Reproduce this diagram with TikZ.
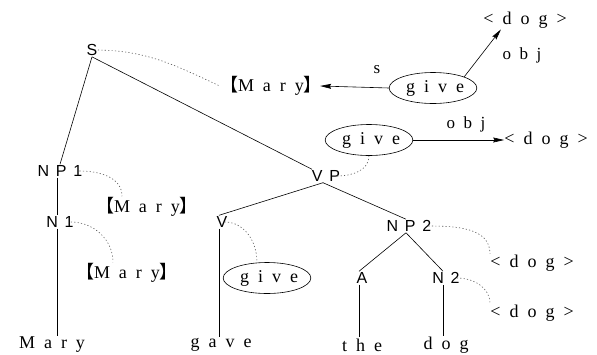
\documentclass[tikz,border=0pt]{standalone}
\usepackage{fontspec}
\setmainfont{Liberation Serif}
\newfontfamily\wordfont[LetterSpace=50]{Liberation Serif}
\newfontfamily\catfont[LetterSpace=42]{Liberation Sans}
\newfontfamily\cjkfont{Noto Sans CJK SC}
\usetikzlibrary{arrows.meta,shapes.geometric}
\newcommand{\lbr}{{\cjkfont 【}}
\newcommand{\rbr}{{\cjkfont 】}}
\begin{document}
\begin{tikzpicture}[x=1pt,y=-1pt,
  cat/.style={font=\fontsize{16}{18}\selectfont\catfont, inner sep=1pt},
  word/.style={font=\fontsize{18}{20}\selectfont\wordfont, inner sep=1pt},
  lab/.style={font=\fontsize{17}{19}\selectfont\wordfont, inner sep=1pt},
  sem/.style={ellipse, draw, line width=0.6pt, inner sep=0pt, minimum width=78pt, minimum height=31pt, font=\fontsize{18}{20}\selectfont\wordfont},
  tree/.style={line width=0.6pt},
  link/.style={dash pattern=on 1.2pt off 2.2pt, black!65, line width=0.6pt},
  rel/.style={line width=0.6pt, -{Stealth[length=11pt,width=5pt,inset=1.5pt]}}
]
\useasboundingbox (0,0) rectangle (597,354);
% tree categories
\node[cat] (S) at (92,50) {S};
\node[cat] (NPone) at (60,171) {NP1};
\node[cat] (None) at (60,222) {N1};
\node[cat] (VP) at (326,176) {VP};
\node[cat] (V) at (222,222) {V};
\node[cat] (NPtwo) at (409,226) {NP2};
\node[cat] (A) at (362,278) {A};
\node[cat] (Ntwo) at (446,278) {N2};
% words
\node[word] (wMary) at (52,345) {Mary};
\node[word] (wgave) at (221,345) {gave};
\node[word] (wthe) at (362,345) {the};
\node[word] (wdog) at (446,345) {dog};
% features
\node[word] (maryA) at (271,86) {\lbr Mary\rbr};
\node[word] (maryB) at (147,207) {\lbr Mary\rbr};
\node[word] (maryC) at (127,273) {\lbr Mary\rbr};
\node[sem] (giveA) at (433,88) {\hspace{4pt}give};
\node[sem] (giveB) at (369,140) {\hspace{4pt}give};
\node[sem, minimum width=70pt] (giveC) at (267,278) {\hspace{4pt}give};
\node[word] (dogA) at (525,20) {<dog>};
\node[word] (dogB) at (546,140) {<dog>};
\node[word] (dogC) at (532,263) {<dog>};
\node[word] (dogD) at (532,313) {<dog>};
\node[lab] (s) at (377,70) {s};
\node[lab] (objA) at (522,55) {obj};
\node[lab] (objB) at (466,124) {obj};
% tree edges
\draw[tree] (S.south) -- ([xshift=-14pt]VP.north);
\draw[tree] (S.south) -- (NPone.north);
\draw[tree] ([xshift=-3pt]NPone.south) -- ([xshift=-3pt]None.north);
\draw[tree] ([xshift=-3pt]None.south) -- ([xshift=-3pt]None.south |- wMary.north);
\draw[tree] ([xshift=-3pt]VP.south) -- ([xshift=-3pt]V.north);
\draw[tree] ([xshift=-3pt]VP.south) -- ([xshift=-3pt]NPtwo.north);
\draw[tree] ([xshift=-3pt]V.south) -- ([xshift=-3pt]V.south |- wgave.north);
\draw[tree] ([xshift=-3pt]NPtwo.south) -- ([xshift=-3pt]A.north);
\draw[tree] ([xshift=-3pt]NPtwo.south) -- ([xshift=-3pt]Ntwo.north);
\draw[tree] ([xshift=-3pt]A.south) -- ([xshift=-3pt]A.south |- wthe.north);
\draw[tree] ([xshift=-3pt]Ntwo.south) -- ([xshift=-3pt]Ntwo.south |- wdog.north);
% dotted links
\draw[link] ([xshift=-4pt]S.east) to[out=0,in=155] ([xshift=1pt]maryA.west);
\draw[link] ([xshift=-4pt]NPone.east) to[out=0,in=90] ([xshift=-25pt]maryB.north);
\draw[link] ([xshift=-4pt]None.east) to[out=0,in=90] ([xshift=-14pt]maryC.north);
\draw[link] ([xshift=-4pt]V.east) to[out=0,in=90] ([xshift=-10pt]giveC.north);
\draw[link] ([xshift=-4pt]VP.east) to[out=0,in=-90] (giveB.south);
\draw[link] ([xshift=-4pt]NPtwo.east) to[out=0,in=90] ([xshift=-42pt]dogC.north);
\draw[link] ([xshift=-4pt]Ntwo.east) to[out=0,in=90] ([xshift=-42pt]dogD.north);
% relations
\draw[rel] (giveA.west) -- ([xshift=-3pt]maryA.east);
\draw[rel] (giveA.north east) -- ([xshift=-24pt]dogA.south);
\draw[rel] (giveB.east) -- ([xshift=1pt]dogB.west);
\end{tikzpicture}
\end{document}
